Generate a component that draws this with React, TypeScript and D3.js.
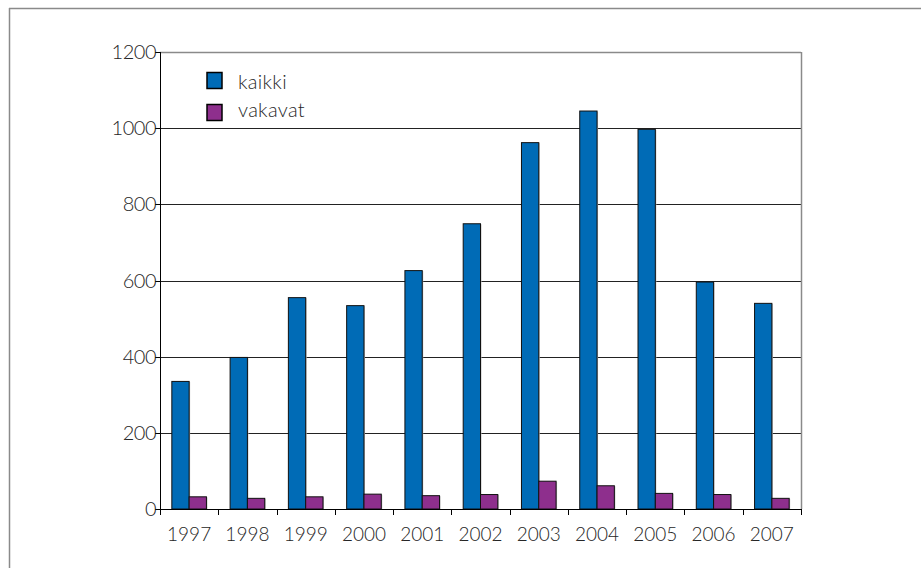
import React from "react";
import * as d3 from "d3";

const years = ["1997", "1998", "1999", "2000", "2001", "2002", "2003", "2004", "2005", "2006", "2007"];
const kaikki = [335, 398, 555, 534, 626, 749, 962, 1045, 997, 596, 540];
const vakavat = [32, 28, 32, 39, 35, 38, 73, 61, 41, 38, 28];
const seriesNames = ["kaikki", "vakavat"];
const seriesColors = ["#006BB6", "#8E2F8D"];
const yTicks = [0, 200, 400, 600, 800, 1000, 1200];

const W = 921;
const H = 568;
const left = 160;
const right = 801;
const top = 52;
const bottom = 509;
const font = "Lato, 'Open Sans', sans-serif";
const textColor = "#262626";

export default function App() {
  const x = d3.scaleBand<string>().domain(years).range([left, right]).paddingInner(0).paddingOuter(0);
  const y = d3.scaleLinear().domain([0, 1200]).range([bottom, top]);
  const step = x.bandwidth();
  const barW = step * 0.297;
  const gap = (step - 2 * barW) / 2;
  const series = [kaikki, vakavat];

  return (
    <svg width={W} height={H} style={{ position: "absolute", left: 0, top: 0, background: "#fff" }}>
      <rect x={0} y={0} width={W} height={H} fill="#fff" />
      {/* outer frame */}
      <line x1={9} y1={8.5} x2={W} y2={8.5} stroke="#8a8a8a" strokeWidth={1.5} />
      <line x1={9.5} y1={8} x2={9.5} y2={H} stroke="#8a8a8a" strokeWidth={1.5} />
      {/* gridlines */}
      {yTicks.filter((t) => t > 0 && t < 1200).map((t) => (
        <line key={t} x1={left} x2={right} y1={Math.round(y(t)) + 0.5} y2={Math.round(y(t)) + 0.5} stroke="#222" strokeWidth={1} />
      ))}
      {/* plot border top & right */}
      <line x1={left} x2={right} y1={top + 0.5} y2={top + 0.5} stroke="#8a8a8a" strokeWidth={1.5} />
      <line x1={right + 0.5} x2={right + 0.5} y1={top} y2={bottom} stroke="#8a8a8a" strokeWidth={1.5} />
      {/* bars */}
      {series.map((vals, si) =>
        vals.map((v, i) => {
          const bx = (x(years[i]) as number) + gap + si * barW;
          const by = y(v);
          return (
            <g key={`${si}-${i}`}>
              <rect x={bx + 1} y={by + 0.5} width={barW} height={bottom - by} fill="#bdbdbd" />
              <rect x={bx} y={by} width={barW} height={bottom - by} fill={seriesColors[si]} stroke="#111" strokeWidth={1} />
            </g>
          );
        })
      )}
      {/* axes */}
      <line x1={left + 0.5} x2={left + 0.5} y1={top} y2={bottom} stroke="#000" strokeWidth={1} />
      <line x1={left} x2={right + 1} y1={bottom + 0.5} y2={bottom + 0.5} stroke="#000" strokeWidth={1} />
      {yTicks.map((t) => (
        <g key={t}>
          <line x1={left - 5} x2={left} y1={Math.round(y(t)) + 0.5} y2={Math.round(y(t)) + 0.5} stroke="#000" />
          <text x={left - 4} y={y(t) + 7} textAnchor="end" fontFamily={font} fontWeight={300} fontSize={20} fill={textColor} letterSpacing={-0.5}>
            {t}
          </text>
        </g>
      ))}
      {years.map((yr) => (
        <line key={yr} x1={Math.round(x(yr) as number) + 0.5} x2={Math.round(x(yr) as number) + 0.5} y1={bottom} y2={bottom + 6} stroke="#000" />
      ))}
      <line x1={right + 0.5} x2={right + 0.5} y1={bottom} y2={bottom + 6} stroke="#000" />
      {years.map((yr) => (
        <text key={yr} x={(x(yr) as number) + step / 2} y={541} textAnchor="middle" fontFamily={font} fontWeight={300} fontSize={19} fill={textColor}>
          {yr}
        </text>
      ))}
      {/* legend */}
      {seriesNames.map((n, i) => (
        <g key={n}>
          <rect x={207} y={72.5 + i * 32} width={15} height={16} fill={seriesColors[i]} stroke="#000" strokeWidth={1.5} />
          <text x={238} y={89 + i * 28} fontFamily={font} fontWeight={300} fontSize={20} fill={textColor} letterSpacing={0.3}>
            {n}
          </text>
        </g>
      ))}
    </svg>
  );
}
